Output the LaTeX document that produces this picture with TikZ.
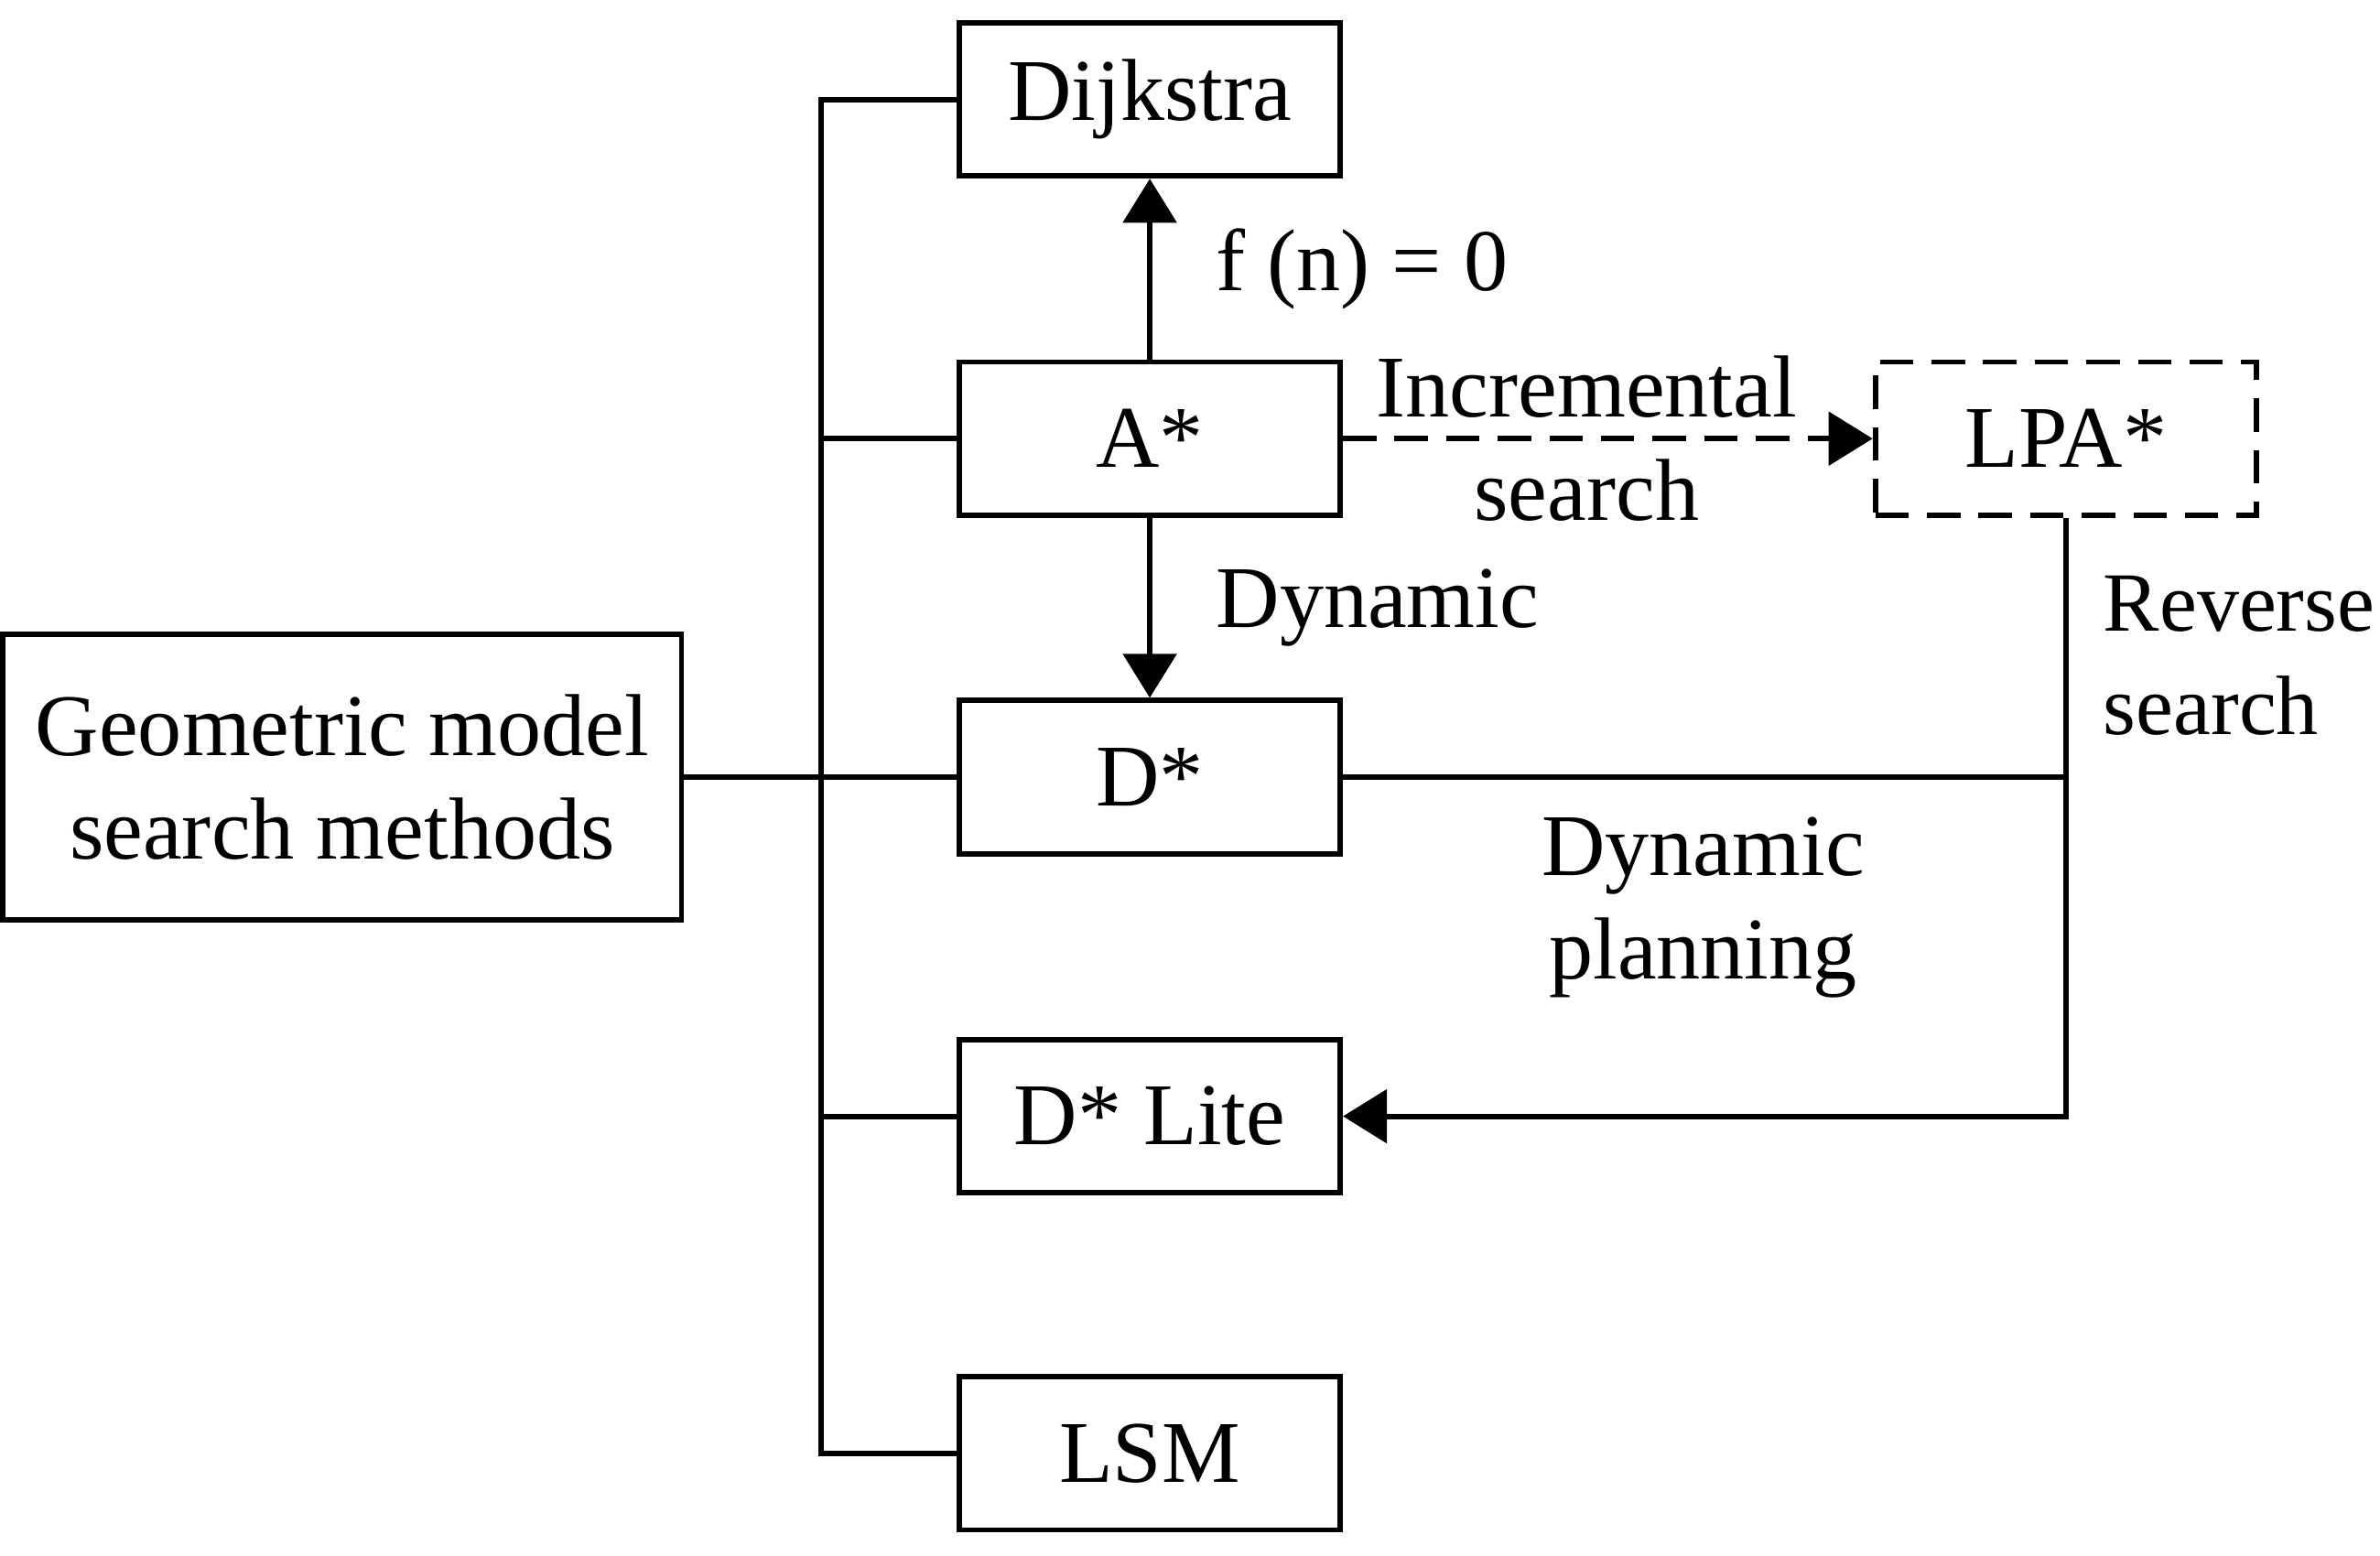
\documentclass[tikz,border=0pt]{standalone}
\usepackage{fontspec}
\setmainfont{Liberation Serif}
\usetikzlibrary{positioning,arrows.meta}

\begin{document}
\begin{tikzpicture}
\tikzset{every node/.style={font=\fontsize{16.5}{19.5}\selectfont, align=center, inner sep=0pt},
  box/.style={draw, line width=1pt, minimum width=2.51cm, minimum height=1.01cm},
  link/.style={line width=1pt},
  tip/.style={-{Triangle[length=2.9mm,width=3.5mm]}}}
\useasboundingbox (0,0) rectangle (15.68,-10.252);
\node[box] at (7.575,-0.655) (dij) {Dijkstra};
\node[box] at (7.575,-2.89) (astar) {A*};
\node[box] at (7.575,-5.12) (dstar) {D*};
\node[box] at (7.575,-7.355) (dlite) {D* Lite};
\node[box] at (7.575,-9.575) (lsm) {LSM};
\node[box, minimum width=4.47cm, minimum height=1.88cm] at (2.255,-5.12) (geo) {Geometric model\\search methods};
\node[box, dash pattern=on 2.2mm off 1.2mm] at (13.61,-2.89) (lpa) {LPA*};
% trunk on the left
\coordinate (top) at (5.41,-0.655);
\coordinate (bot) at (5.41,-9.575);
\draw[link] (dij.west) -- (top) -- (bot) -- (lsm.west);
\foreach \n in {astar,dstar,dlite}
  \draw[link] (\n.west) -- (\n.west -| top);
\draw[link] (geo.east) -- (dstar.west);
% arrows between methods
\draw[link,tip] (astar.north) -- (dij.south) node[pos=0.5, right=0.42cm] {f (n) = 0};
\draw[link,tip] (astar.south) -- (dstar.north) node[pos=0.5, right=0.42cm] {Dynamic};
\draw[link,tip,dash pattern=on 2.2mm off 1.2mm] (astar.east) -- (lpa.west) node[pos=0.46] {Incremental\\search};
\draw[link] (dstar.east) -- (dstar.east -| lpa.south);
\draw[link,tip] (lpa.south) |- (dlite.east);
\node at (11.22,-5.98) (dynplan) {Dynamic\\planning};
\node[anchor=west, align=left, font=\fontsize{15.8}{19.5}\selectfont] at (13.85,-4.32) (revsearch) {Reverse\\search};
\end{tikzpicture}
\end{document}
